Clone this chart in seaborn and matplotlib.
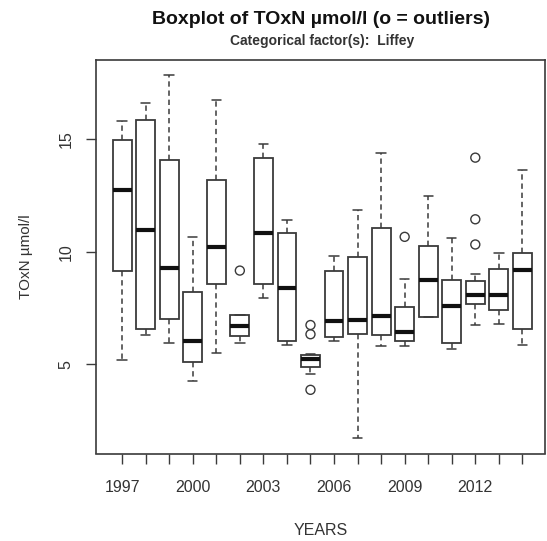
import matplotlib
matplotlib.use("Agg")
import matplotlib.pyplot as plt
import numpy as np
import pandas as pd
import seaborn as sns

# Yearly TOxN summaries (umol/l) for the Liffey: whisker ends, quartiles, median
years = [1997, 1998, 1999, 2000, 2001, 2002, 2003, 2004, 2005,
         2006, 2007, 2008, 2009, 2010, 2011, 2012, 2013, 2014]
whisker_low = [5.20, 6.28, 5.93, 4.26, 5.49, 5.96, 7.94, 5.86, 4.57,
               6.01, 1.70, 5.79, 5.79, 7.11, 5.67, 6.74, 6.80, 5.84]
quartile_1 = [9.12, 6.55, 7.03, 5.08, 8.58, 6.26, 8.58, 6.01, 4.86,
              6.21, 6.36, 6.28, 6.01, 7.11, 5.93, 7.68, 7.43, 6.55]
medians = [12.72, 10.95, 9.27, 6.01, 10.19, 6.70, 10.85, 8.38, 5.23,
           6.92, 6.96, 7.14, 6.43, 8.75, 7.58, 8.06, 8.06, 9.19]
quartile_3 = [14.96, 15.84, 14.08, 8.21, 13.20, 7.18, 14.16, 10.81, 5.40,
              9.12, 9.78, 11.07, 7.55, 10.26, 8.75, 8.71, 9.22, 9.93]
whisker_high = [15.83, 16.61, 17.86, 10.66, 16.73, 7.20, 14.77, 11.42, 5.45,
                9.82, 11.84, 14.38, 8.80, 12.47, 10.62, 9.00, 9.93, 13.64]

# Points beyond 1.5 x IQR
outlier_years = [2002, 2005, 2005, 2005, 2009, 2012, 2012, 2012]
outlier_values = [9.16, 6.74, 6.33, 3.86, 10.66, 14.18, 11.44, 10.32]

labelled_years = [1997, 2000, 2003, 2006, 2009, 2012]

# Long table: five summary values per year reproduce the quartiles exactly
rows = []
for i, yr in enumerate(years):
    for v in (whisker_low[i], quartile_1[i], medians[i], quartile_3[i], whisker_high[i]):
        rows.append({"year": str(yr), "toxn": v})
df = pd.DataFrame(rows)

sns.set_theme(style="white")
plt.rcParams["font.family"] = ["Liberation Sans", "DejaVu Sans"]

W, H = 547, 541
fig = plt.figure(figsize=(W / 100, H / 100), dpi=100)
left, right, top, bottom = 95.5, 545.0, 60.0, 453.5
ax = fig.add_axes([left / W, 1 - bottom / H, (right - left) / W, (bottom - top) / H])

line_col = "#3a3a3a"
order = [str(y) for y in years]
sns.boxplot(data=df, x="year", y="toxn", order=order, ax=ax,
            whis=(0, 100), showfliers=False, width=0.8,
            color="white", linecolor=line_col, linewidth=1.3,
            medianprops={"color": "#111111", "linewidth": 3.0},
            whiskerprops={"linestyle": (0, (3.5, 2.5)), "linewidth": 1.1},
            capprops={"linewidth": 1.1})

out_df = pd.DataFrame({"pos": [years.index(y) for y in outlier_years],
                       "toxn": outlier_values})
sns.scatterplot(data=out_df, x="pos", y="toxn", ax=ax, marker="o", s=42,
                facecolor="none", edgecolor=line_col, linewidth=1.0, zorder=5)

ax.set_xlim(-1.13, 17.96)
ax.set_ylim(1.03, 18.52)

ax.set_xticks(range(len(years)))
ax.set_xticklabels([str(y) if y in labelled_years else "" for y in years])
ax.set_yticks([5, 10, 15])
ax.set_yticklabels(["5", "10", "15"], rotation=90, va="center")

ax.tick_params(axis="both", which="both", direction="out", length=7,
               width=1.0, color=line_col, labelcolor="#333333", labelsize=11.5)
ax.tick_params(axis="x", pad=12)
ax.tick_params(axis="y", pad=9)
ax.xaxis.set_ticks_position("bottom")
ax.yaxis.set_ticks_position("left")

for sp in ax.spines.values():
    sp.set_visible(True)
    sp.set_color(line_col)
    sp.set_linewidth(1.2)

ax.set_xlabel("YEARS", fontsize=11.5, color="#333333", labelpad=20)
ax.set_ylabel("TOxN \u00b5mol/l", fontsize=11, color="#333333", labelpad=18)

fig.text(321 / W, 1 - 19.5 / H, "Boxplot of TOxN \u00b5mol/l (o = outliers)",
         ha="center", va="center", fontsize=14, fontweight="bold", color="#111111")
fig.text(322 / W, 1 - 41 / H, "Categorical factor(s):  Liffey",
         ha="center", va="center", fontsize=10, fontweight="bold", color="#333333")

fig.savefig("out.png", dpi=100, facecolor="white")
